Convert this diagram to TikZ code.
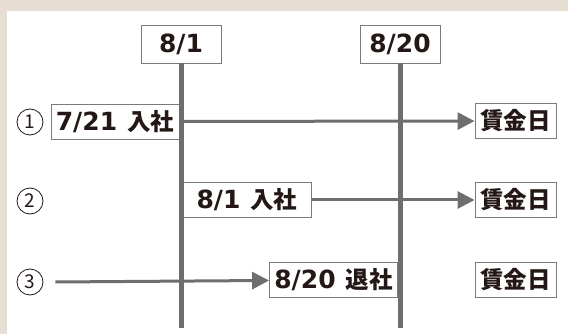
\documentclass[tikz,border=0pt]{standalone}
\usepackage{fontspec}
\newfontfamily\jpfont{Noto Sans CJK JP}
\newfontfamily\numfont{DejaVu Sans}
\usepackage{tikz}
\usetikzlibrary{positioning}
\usetikzlibrary{arrows.meta}
\definecolor{paper}{HTML}{E7DED3}
\definecolor{linegray}{HTML}{6E6E6E}
\definecolor{boxgray}{HTML}{7A7A7A}
\definecolor{ink}{HTML}{231815}
% dates set in a wide sans, kanji in the CJK face
\newcommand{\dt}[1]{{\numfont\fontsize{25}{25}\selectfont #1}}
\newcommand{\gap}{\hspace{10pt}}
\tikzset{
  datebox/.style={shape=rectangle,draw=boxgray,line width=0.9pt,fill=white,
    text=ink,font=\jpfont\bfseries\fontsize{23.5}{23.5}\selectfont,
    minimum height=35pt,inner sep=0pt},
  daybox/.style={datebox,minimum width=81pt},
  eventbox/.style={datebox,minimum width=128pt},
  timeline/.style={draw=linegray,line width=5pt},
  flow/.style={draw=linegray,line width=3pt,
    -{Triangle[length=17pt,width=17pt]}},
  casenum/.style={shape=circle,draw=ink,line width=0.8pt,minimum size=26pt,
    inner sep=0pt,text=ink,font=\jpfont\fontsize{19}{19}\selectfont}
}
\begin{document}
\begin{tikzpicture}[x=1pt,y=-1pt]
    \useasboundingbox (0,0) rectangle (568,334);
    \fill[paper] (0,0) rectangle (568,334);
    \fill[white] (7,11) rectangle (568,334);
    % dates
    \node[datebox,minimum width=80pt,minimum height=38pt] (aug1) at (181,44) {\dt{8/1}};
    \node[datebox,minimum width=80pt,minimum height=38pt] (aug20) at (400,44) {\dt{8/20}};
    \coordinate (aug1end) at (181,328);
    \coordinate (aug20end) at (400,328);
    % cases
    \node[casenum] (c1) at (30,122) {1};
    \node[casenum] (c2) at (30,201) {2};
    \node[casenum] (c3) at (30,282) {3};
    \node[eventbox] (join1) at (115,121.5) {\dt{7/21}\gap 入社};
    \node[eventbox] (join2) at (247,200) {\dt{8/1}\gap 入社};
    \node[eventbox] (leave3) at (333.5,280) {\dt{8/20}\gap 退社};
    \node[daybox] (pay1) at (515.5,121) {賃金日};
    \node[daybox] (pay2) at (515.5,200) {賃金日};
    \node[daybox] (pay3) at (515.5,280) {賃金日};
    \coordinate[right=12pt of c3] (start3);
    \draw[flow] (join1) -- (pay1);
    \draw[flow] (join2) -- (pay2);
    \draw[flow] (start3) -- (leave3);
    \draw[timeline] (aug1) -- (aug1end);
    \draw[timeline] (aug20) -- (aug20end);
\end{tikzpicture}
\end{document}
